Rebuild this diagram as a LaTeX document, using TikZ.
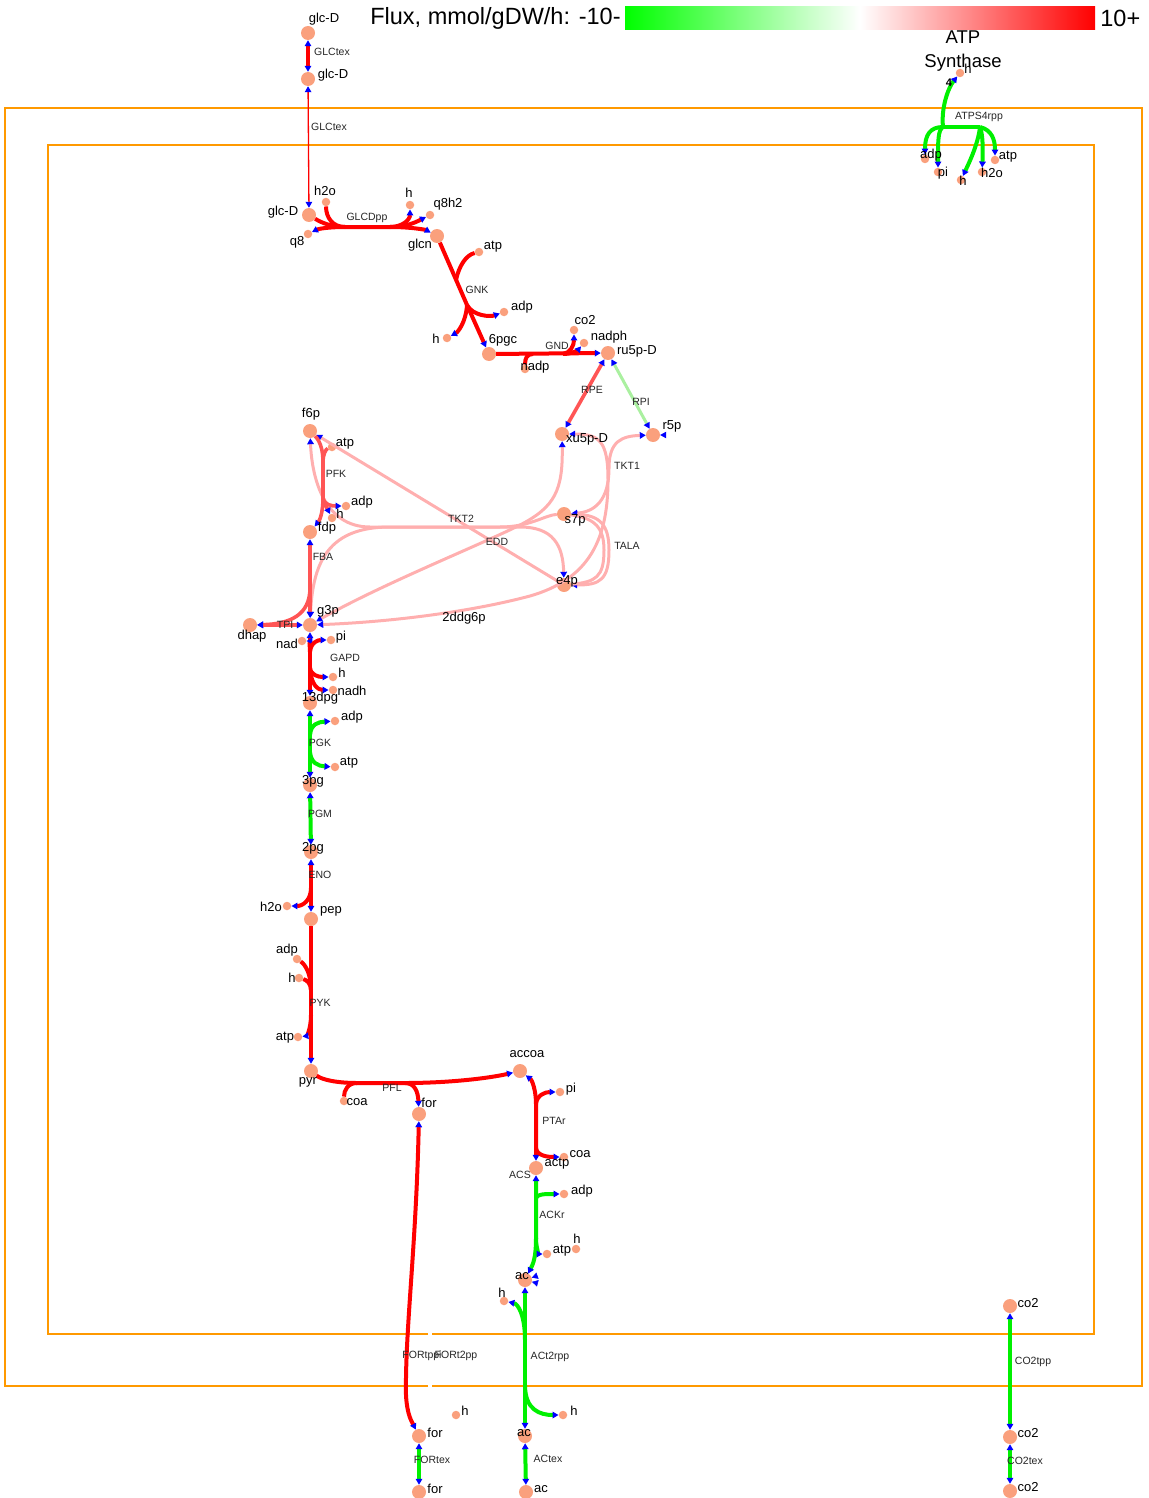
\documentclass[tikz,border=0pt]{standalone}
\usepackage{fontspec}
\setmainfont{Liberation Sans}
\usetikzlibrary{arrows.meta}
\definecolor{fluxred}{RGB}{255,0,0}
\definecolor{fluxmid}{RGB}{255,85,85}
\definecolor{fluxpink}{RGB}{255,175,175}
\definecolor{fluxgreen}{RGB}{0,240,0}
\definecolor{fluxlight}{RGB}{170,240,160}
\definecolor{metfill}{RGB}{250,160,125}
\definecolor{membrane}{RGB}{255,153,0}

\begin{document}
\begin{tikzpicture}[x=1pt, y=-1pt,
    >={Triangle[length=6pt,width=6.5pt,color=blue]},
    met/.style={circle, fill=metfill, inner sep=0pt, minimum size=14pt},
    sm/.style={circle, fill=metfill, inner sep=0pt, minimum size=8.5pt},
    mlab/.style={font=\fontsize{13}{15}\selectfont, inner sep=0pt},
    rlab/.style={font=\fontsize{10.5}{12}\selectfont, inner sep=0pt, text=black!85},
    rxn/.style={draw=fluxred, line width=4pt},
    rxnthin/.style={draw=fluxred, line width=1.3pt},
    rxnmid/.style={draw=fluxmid, line width=3.6pt},
    rxnpk/.style={draw=fluxpink, line width=3pt},
    rxngr/.style={draw=fluxgreen, line width=4pt},
    rxnlg/.style={draw=fluxlight, line width=3pt},
    stub/.style={draw=white, line width=0.5pt, ->},
    wall/.style={draw=membrane, line width=2.5pt},
    legendbar/.style={minimum width=470pt, minimum height=23pt, inner sep=0pt,
        left color=green, right color=red, middle color=white}
]
\useasboundingbox (0,0) rectangle (1148,1498);

\draw[wall] (428,1386) -- (5,1386) -- (5,108) -- (1142,108) -- (1142,1386) -- (432,1386);
\draw[wall] (428,1334) -- (48,1334) -- (48,145) -- (1094,145) -- (1094,1334) -- (432,1334);

\node[legendbar] (legend) at (860,18) {};
\node[anchor=east, inner sep=0pt, font=\fontsize{23.5}{26}\selectfont] (legend-lo) at ([xshift=-4pt]legend.west) {Flux, mmol/gDW/h: -10-};
\node[anchor=west, inner sep=0pt, font=\fontsize{23.5}{26}\selectfont] (legend-hi) at ([xshift=5pt]legend.east) {10+};

\node[met] (glcDe) at (308,33) {};
\node[met] (glcDp) at (308,79) {};
\node[met] (glcDc) at (309,215) {};
\node[sm] (h2oA) at (326,202) {};
\node[sm] (hA) at (410,205) {};
\node[sm] (q8h2) at (430,215) {};
\node[sm] (q8) at (308,234) {};
\node[met] (glcn) at (437,236) {};
\node[sm] (atpA) at (479,252) {};
\node[sm] (adpA) at (504,312) {};
\node[sm] (hB) at (447,338) {};
\node[met] (pgc6) at (489,354) {};
\node[sm] (nadp) at (525,369) {};
\node[sm] (co2A) at (574,330) {};
\node[sm] (nadph) at (584,343) {};
\node[met] (ru5pD) at (608,353) {};
\node[met] (xu5pD) at (562,434) {};
\node[met] (r5p) at (653,435) {};
\node[met] (f6p) at (310,431) {};
\node[sm] (atpB) at (332,447) {};
\node[sm] (adpB) at (346,506) {};
\node[sm] (hC) at (332,518) {};
\node[met] (fdp) at (310,532) {};
\node[met] (s7p) at (564,514) {};
\node[met] (e4p) at (564,585) {};
\node[met] (g3p) at (310,625) {};
\node[met] (dhap) at (250,625) {};
\node[sm] (nad) at (302,641) {};
\node[sm] (piA) at (331,640) {};
\node[sm] (hD) at (333,677) {};
\node[sm] (nadh) at (333,690) {};
\node[met] (dpg13) at (310,703) {};
\node[sm] (adpC) at (335,721) {};
\node[sm] (atpC) at (335,767) {};
\node[met] (pg3) at (310,785) {};
\node[met] (pg2) at (311,852) {};
\node[sm] (h2oB) at (287,906) {};
\node[met] (pep) at (311,919) {};
\node[sm] (adpD) at (297,959) {};
\node[sm] (hE) at (299,978) {};
\node[sm] (atpD) at (298,1037) {};
\node[met] (pyr) at (311,1071) {};
\node[sm] (coaA) at (344,1101) {};
\node[met] (forc) at (419,1114) {};
\node[met] (accoa) at (520,1071) {};
\node[sm] (piB) at (560,1092) {};
\node[sm] (coaB) at (564,1157) {};
\node[met] (actp) at (536,1168) {};
\node[sm] (adpE) at (564,1194) {};
\node[sm] (atpE) at (547,1254) {};
\node[sm] (hF) at (576,1249) {};
\node[met] (acc) at (525,1280) {};
\node[sm] (hG) at (504,1301) {};
\node[sm] (hH) at (563,1415) {};
\node[sm] (hI) at (456,1415) {};
\node[met] (forp) at (419,1436) {};
\node[met] (acp) at (525,1436) {};
\node[met] (fore) at (419,1492) {};
\node[met] (ace) at (526,1492) {};
\node[met] (co2c) at (1010,1306) {};
\node[met] (co2p) at (1010,1437) {};
\node[met] (co2e) at (1010,1491) {};
\node[sm] (hJ) at (960,73) {};
\node[sm] (adpF) at (925,159) {};
\node[sm] (piC) at (938,172) {};
\node[sm] (hK) at (961,180) {};
\node[sm] (h2oC) at (982,172) {};
\node[sm] (atpF) at (995,160) {};

\coordinate (gd1) at (345,227);
\coordinate (gd2) at (390,227);
\coordinate (gk1) at (456,280);
\coordinate (gk2) at (467,305);
\coordinate (gn1) at (533,354);
\coordinate (gn2) at (563,354);
\coordinate (tk1) at (609,468);
\coordinate (tk3) at (608,480);
\coordinate (tk4) at (520,525);
\coordinate (tk5) at (530,596);
\coordinate (tl1) at (370,527);
\coordinate (tl2) at (520,527);
\coordinate (tl3) at (390,527);
\coordinate (tl4) at (500,527);
\coordinate (tl5) at (609,550);
\coordinate (tl6) at (604,550);
\coordinate (pf1) at (323,462);
\coordinate (pf2) at (323,498);
\coordinate (fb1) at (310,588);
\coordinate (ga1) at (310,652);
\coordinate (ga2) at (310,668);
\coordinate (pk1) at (310,735);
\coordinate (pk2) at (310,752);
\coordinate (en1) at (311,888);
\coordinate (py1) at (311,990);
\coordinate (py2) at (311,1015);
\coordinate (pl1) at (357,1083);
\coordinate (pl2) at (405,1083);
\coordinate (pt1) at (536,1104);
\coordinate (pt2) at (536,1148);
\coordinate (ak1) at (536,1198);
\coordinate (ak2) at (536,1238);
\coordinate (at1) at (525,1340);
\coordinate (at2) at (525,1385);
\coordinate (ft1) at (406,1395);
\coordinate (as1) at (943,127);
\coordinate (as2) at (980,127);
\coordinate (r5p-x) at (673,435);
\coordinate (acc-x1) at (548,1272);
\coordinate (acc-x2) at (548,1286);

\draw[rxn,<->] (glcDe) -- (glcDp);
\draw[rxnthin,<->] (glcDp) -- (glcDc);

\draw[rxn] (glcDc) .. controls (322,223) and (332,227) .. (gd1) -- (gd2);
\draw[rxn] (h2oA) .. controls (326,218) and (333,227) .. (gd1);
\draw[rxn,->] (gd1) .. controls (328,227) and (318,229) .. (q8);
\draw[rxn,->] (gd2) .. controls (402,227) and (410,220) .. (hA);
\draw[rxn,->] (gd2) .. controls (408,227) and (418,221) .. (q8h2);
\draw[rxn,->] (gd2) .. controls (412,227) and (426,230) .. (glcn);

\draw[rxn] (glcn) -- (gk2);
\draw[rxn,->] (gk2) -- (pgc6);
\draw[rxn] (atpA) .. controls (466,255) and (459,266) .. (gk1);
\draw[rxn,->] (gk2) .. controls (473,316) and (490,317) .. (adpA);
\draw[rxn,->] (gk2) .. controls (466,322) and (458,332) .. (hB);

\draw[rxn,->] (pgc6) -- (ru5pD);
\draw[rxn] (nadp) .. controls (525,358) and (527,354) .. (gn1);
\draw[rxn,->] (gn2) .. controls (570,353) and (574,346) .. (co2A);
\draw[rxn,->] (gn2) .. controls (572,354) and (578,350) .. (nadph);

\draw[rxnmid,<->] (ru5pD) -- (xu5pD);
\draw[rxnlg,<->] (ru5pD) -- (r5p);

\draw[rxnpk,<->] (r5p) .. controls (622,436) and (609,441) .. (tk1) .. controls (609,500) and (595,512) .. (s7p);
\draw[rxnpk,<->] (xu5pD) .. controls (600,434) and (608,442) .. (tk3) .. controls (608,545) and (585,580) .. (tk5) .. controls (470,612) and (390,622) .. (g3p);
\draw[rxnpk,<->] (xu5pD) .. controls (563,490) and (555,507) .. (tk4) .. controls (480,545) and (380,585) .. (g3p);
\draw[rxnpk,<-] (f6p) -- (e4p);
\draw[rxnpk,<->] (f6p) .. controls (312,480) and (325,527) .. (tl1) -- (tl2) .. controls (553,527) and (563,545) .. (e4p);
\draw[rxnpk,<-] (g3p) .. controls (313,560) and (330,527) .. (tl3) -- (tl4) .. controls (530,527) and (545,515) .. (s7p);
\draw[rxnpk,<->] (s7p) .. controls (600,515) and (609,525) .. (tl5) .. controls (609,580) and (600,585) .. (e4p);
\draw[rxnpk] (s7p) .. controls (595,518) and (604,528) .. (tl6) .. controls (604,577) and (596,582) .. (e4p);
\draw[stub] (r5p-x) -- (r5p);

\draw[rxnmid,->] (f6p) .. controls (321,442) and (323,452) .. (pf1) -- (pf2) .. controls (323,512) and (320,520) .. (fdp);
\draw[rxnmid] (atpB) .. controls (326,449) and (323,454) .. (pf1);
\draw[rxnmid,->] (pf2) .. controls (324,505) and (332,506) .. (adpB);
\draw[rxnmid,->] (pf2) .. controls (325,506) and (328,510) .. (hC);

\draw[rxnmid,<->] (fdp) -- (g3p);
\draw[rxnmid,->] (fb1) .. controls (310,615) and (290,624) .. (dhap);
\draw[rxnmid,<->] (dhap) -- (g3p);

\draw[rxn,<->] (g3p) -- (dpg13);
\draw[rxn,->] (ga1) .. controls (310,644) and (308,641) .. (nad);
\draw[rxn,->] (ga1) .. controls (311,642) and (318,640) .. (piA);
\draw[rxn,->] (ga2) .. controls (311,675) and (318,677) .. (hD);
\draw[rxn,->] (ga2) .. controls (311,685) and (318,690) .. (nadh);

\draw[rxngr,<->] (dpg13) -- (pg3);
\draw[rxngr,->] (pk1) .. controls (311,724) and (318,722) .. (adpC);
\draw[rxngr,->] (pk2) .. controls (311,763) and (318,766) .. (atpC);

\draw[rxngr,<->] (pg3) -- (pg2);

\draw[rxn,<->] (pg2) -- (pep);
\draw[rxn,->] (en1) .. controls (311,900) and (303,906) .. (h2oB);

\draw[rxn,->] (pep) -- (pyr);
\draw[rxn] (adpD) .. controls (306,965) and (311,975) .. (py1);
\draw[rxn] (hE) .. controls (307,980) and (311,984) .. (py1);
\draw[rxn,->] (py2) .. controls (311,1030) and (306,1036) .. (atpD);

\draw[rxn,->] (pyr) .. controls (322,1080) and (338,1083) .. (pl1) -- (pl2) .. controls (450,1083) and (490,1078) .. (accoa);
\draw[rxn] (coaA) .. controls (344,1090) and (348,1083) .. (pl1);
\draw[rxn,->] (pl2) .. controls (415,1083) and (418,1092) .. (forc);

\draw[rxn,<->] (accoa) .. controls (532,1080) and (536,1090) .. (pt1) -- (pt2) -- (actp);
\draw[rxn,->] (pt1) .. controls (537,1095) and (545,1092) .. (piB);
\draw[rxn,->] (pt2) .. controls (537,1156) and (548,1157) .. (coaB);

\draw[rxngr,<->] (actp) -- (ak1) -- (ak2) .. controls (536,1258) and (533,1264) .. (acc);
\draw[rxngr,->] (ak1) .. controls (537,1194) and (545,1194) .. (adpE);
\draw[rxngr,->] (ak2) .. controls (536,1250) and (540,1254) .. (atpE);
\draw[stub] (acc-x1) -- (acc);
\draw[stub] (acc-x2) -- (acc);

\draw[rxngr,<->] (acc) -- (acp);
\draw[rxngr,->] (at1) .. controls (525,1315) and (518,1304) .. (hG);
\draw[rxngr,->] (at2) .. controls (525,1410) and (540,1415) .. (hH);
\draw[rxngr,<->] (acp) -- (ace);

\draw[rxn,<->] (forc) .. controls (416,1250) and (405,1330) .. (ft1) .. controls (407,1415) and (412,1422) .. (forp);
\draw[rxngr,<->] (forp) -- (fore);

\draw[rxngr,<->] (co2c) -- (co2p);
\draw[rxngr,<->] (co2p) -- (co2e);

\draw[rxngr,->] (as1) .. controls (941,108) and (948,88) .. (hJ);
\draw[rxngr] (as1) -- (as2);
\draw[rxngr,->] (as1) .. controls (930,127) and (925,135) .. (adpF);
\draw[rxngr,->] (as1) .. controls (938,130) and (938,140) .. (piC);
\draw[rxngr,->] (as2) .. controls (978,145) and (968,165) .. (hK);
\draw[rxngr,->] (as2) .. controls (983,135) and (983,150) .. (h2oC);
\draw[rxngr,->] (as2) .. controls (992,130) and (995,140) .. (atpF);

\node[font=\fontsize{18.5}{24}\selectfont, align=center, inner sep=0pt] (atps-t) at (963,51) {ATP\\Synthase};
\node[font=\bfseries\fontsize{11}{13}\selectfont, inner sep=0pt] (hJ-n) at (949,83) {4};

\node[mlab] (glcDe-t) at (324,19) {glc-D};
\node[mlab] (glcDp-t) at (333,75) {glc-D};
\node[mlab] (glcDc-t) at (283,212) {glc-D};
\node[mlab] (h2oA-t) at (325,191) {h2o};
\node[mlab] (hA-t) at (409,193) {h};
\node[mlab] (q8h2-t) at (448,204) {q8h2};
\node[mlab] (q8-t) at (297,242) {q8};
\node[mlab] (glcn-t) at (420,245) {glcn};
\node[mlab] (atpA-t) at (493,247) {atp};
\node[mlab] (adpA-t) at (522,307) {adp};
\node[mlab] (hB-t) at (436,339) {h};
\node[mlab] (pgc6-t) at (503,340) {6pgc};
\node[mlab] (co2A-t) at (585,320) {co2};
\node[mlab] (nadph-t) at (609,337) {nadph};
\node[mlab] (nadp-t) at (535,367) {nadp};
\node[mlab] (ru5pD-t) at (637,351) {ru5p-D};
\node[mlab] (r5p-t) at (672,426) {r5p};
\node[mlab] (xu5pD-t) at (587,439) {xu5p-D};
\node[mlab] (f6p-t) at (311,414) {f6p};
\node[mlab] (atpB-t) at (345,444) {atp};
\node[mlab] (adpB-t) at (362,502) {adp};
\node[mlab] (hC-t) at (340,514) {h};
\node[mlab] (fdp-t) at (327,528) {fdp};
\node[mlab] (s7p-t) at (575,520) {s7p};
\node[mlab] (e4p-t) at (567,581) {e4p};
\node[mlab] (g3p-t) at (328,611) {g3p};
\node[mlab] (dhap-t) at (252,636) {dhap};
\node[mlab] (ddg6p-t) at (464,618) {2ddg6p};
\node[mlab] (nad-t) at (287,644) {nad};
\node[mlab] (piA-t) at (341,637) {pi};
\node[mlab] (hD-t) at (342,673) {h};
\node[mlab] (nadh-t) at (352,691) {nadh};
\node[mlab] (dpg13-t) at (320,698) {13dpg};
\node[mlab] (adpC-t) at (352,717) {adp};
\node[mlab] (atpC-t) at (349,763) {atp};
\node[mlab] (pg3-t) at (313,781) {3pg};
\node[mlab] (pg2-t) at (313,848) {2pg};
\node[mlab] (h2oB-t) at (271,907) {h2o};
\node[mlab] (pep-t) at (331,911) {pep};
\node[mlab] (adpD-t) at (287,950) {adp};
\node[mlab] (hE-t) at (292,978) {h};
\node[mlab] (atpD-t) at (285,1038) {atp};
\node[mlab] (pyr-t) at (308,1082) {pyr};
\node[mlab] (coaA-t) at (357,1102) {coa};
\node[mlab] (forc-t) at (429,1103) {for};
\node[mlab] (accoa-t) at (527,1054) {accoa};
\node[mlab] (piB-t) at (571,1089) {pi};
\node[mlab] (coaB-t) at (580,1154) {coa};
\node[mlab] (actp-t) at (557,1164) {actp};
\node[mlab] (adpE-t) at (582,1191) {adp};
\node[mlab] (atpE-t) at (562,1251) {atp};
\node[mlab] (hF-t) at (577,1239) {h};
\node[mlab] (acc-t) at (522,1276) {ac};
\node[mlab] (hG-t) at (502,1293) {h};
\node[mlab] (hH-t) at (574,1411) {h};
\node[mlab] (hI-t) at (465,1411) {h};
\node[mlab] (forp-t) at (435,1433) {for};
\node[mlab] (acp-t) at (524,1433) {ac};
\node[mlab] (fore-t) at (435,1489) {for};
\node[mlab] (ace-t) at (541,1489) {ac};
\node[mlab] (co2c-t) at (1028,1303) {co2};
\node[mlab] (co2p-t) at (1028,1433) {co2};
\node[mlab] (co2e-t) at (1028,1487) {co2};
\node[mlab] (hJ-t) at (968,69) {h};
\node[mlab] (adpF-t) at (931,155) {adp};
\node[mlab] (piC-t) at (943,173) {pi};
\node[mlab] (hK-t) at (963,181) {h};
\node[mlab] (h2oC-t) at (992,173) {h2o};
\node[mlab] (atpF-t) at (1008,157) {atp};

\node[rlab] (glctex1-t) at (332,52) {GLCtex};
\node[rlab] (glctex2-t) at (329,127) {GLCtex};
\node[rlab] (glcdpp-t) at (367,218) {GLCDpp};
\node[rlab] (gnk-t) at (477,290) {GNK};
\node[rlab] (gnd-t) at (557,346) {GND};
\node[rlab] (rpe-t) at (592,390) {RPE};
\node[rlab] (rpi-t) at (641,402) {RPI};
\node[rlab] (tkt1-t) at (627,466) {TKT1};
\node[rlab] (pfk-t) at (336,474) {PFK};
\node[rlab] (tkt2-t) at (461,519) {TKT2};
\node[rlab] (edd-t) at (497,542) {EDD};
\node[rlab] (tala-t) at (627,546) {TALA};
\node[rlab] (fba-t) at (323,557) {FBA};
\node[rlab] (tpi-t) at (285,625) {TPI};
\node[rlab] (gapd-t) at (345,658) {GAPD};
\node[rlab] (pgk-t) at (320,743) {PGK};
\node[rlab] (pgm-t) at (320,814) {PGM};
\node[rlab] (eno-t) at (320,875) {ENO};
\node[rlab] (pyk-t) at (320,1003) {PYK};
\node[rlab] (pfl-t) at (392,1088) {PFL};
\node[rlab] (ptar-t) at (554,1121) {PTAr};
\node[rlab] (acs-t) at (520,1175) {ACS};
\node[rlab] (ackr-t) at (552,1215) {ACKr};
\node[rlab] (fortppi-t) at (422,1356) {FORtppi};
\node[rlab] (fort2pp-t) at (456,1356) {FORt2pp};
\node[rlab] (act2rpp-t) at (550,1357) {ACt2rpp};
\node[rlab] (co2tpp-t) at (1033,1362) {CO2tpp};
\node[rlab] (actex-t) at (548,1459) {ACtex};
\node[rlab] (fortex-t) at (432,1460) {FORtex};
\node[rlab] (co2tex-t) at (1025,1461) {CO2tex};
\node[rlab] (atps4rpp-t) at (979,117) {ATPS4rpp};
\end{tikzpicture}
\end{document}
